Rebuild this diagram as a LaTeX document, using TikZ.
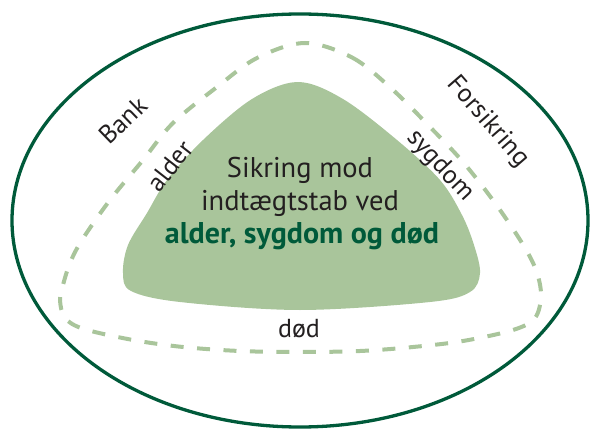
\documentclass[tikz,border=0pt]{standalone}
\usepackage{fontspec}
\setmainfont{PT Sans}
\definecolor{darkgreen}{HTML}{005A3A}
\definecolor{lightgreen}{HTML}{A9C59B}
\definecolor{textdark}{HTML}{231F20}
\tikzset{
  outerring/.style={draw=darkgreen, line width=3.3pt},
  dashring/.style={draw=lightgreen, line width=4pt, dash pattern=on 13pt off 13.5pt},
  corefill/.style={fill=lightgreen},
  lbl/.style={font=\fontsize{26}{30}\selectfont, text=textdark, inner sep=0pt},
  centertxt/.style={font=\fontsize{28.5}{34}\selectfont, text=textdark, align=center, inner sep=0pt}
}
\begin{document}
\begin{tikzpicture}[x=1pt, y=-1pt]
\useasboundingbox (0,0) rectangle (590,431);
\draw[outerring] (300,220.5) ellipse [x radius=288, y radius=206.5];
\draw[dashring] plot[smooth cycle, tension=0.55] coordinates {
 (305,43) (353,58) (393,90) (430,127) (463,162) (495,203) (522,243) (536,270) (541,295) (535,318) (513,330) (463,341) (413,347) (360,351) (300,352) (240,351) (183,347) (133,340) (84,329) (65,318) (60,300) (63,285) (70,263) (82,240) (110,200) (143,160) (173,123) (217,87) (257,58)};
\fill[corefill] plot[smooth cycle, tension=0.55] coordinates {
 (298,82) (343,99) (397,140) (440,180) (462,215) (474,245) (480,273) (470,292) (430,302) (300,310) (180,302) (131,291) (123,273) (128,245) (147,213) (167,180) (203,140) (252,99)};
\node[centertxt, anchor=base] (l1) at (300,177) {Sikring mod};
\node[centertxt, anchor=base] (l2) at (300,210) {indtægtstab ved};
\node[centertxt, anchor=base, font=\fontsize{30}{34}\selectfont\bfseries, text=darkgreen] (l3) at (302,243) {alder, sygdom og død};
\node[lbl, anchor=base] (dod) at (299,337) {død};
\node[lbl, rotate=44] (bank) at (123,120) {Bank};
\node[lbl, rotate=52] (alder) at (170,166) {alder};
\node[lbl, rotate=-47] (sygdom) at (440,166) {sygdom};
\node[lbl, rotate=-49] (fors) at (488,122) {Forsikring};
\end{tikzpicture}
\end{document}
